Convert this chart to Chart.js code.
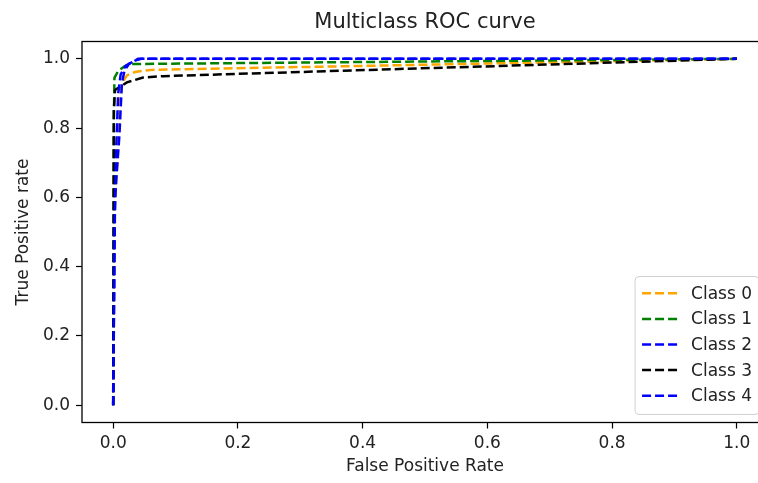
<!DOCTYPE html>
<html>
<head>
<meta charset="utf-8">
<script src="https://cdn.jsdelivr.net/npm/chart.js@4.4.0/dist/chart.umd.min.js"></script>
<style>
  html, body { margin: 0; padding: 0; background: #fff; overflow: hidden; }
  #roc { display: block; }
</style>
</head>
<body>
<canvas id="roc" width="775" height="483"></canvas>
<script>
// ROC points (false positive rate / true positive rate)
const class0Fpr = [0, 0.002, 0.008, 0.011, 0.014, 0.022, 0.035, 0.06, 1];
const class0Tpr = [0, 0.55, 0.75, 0.88, 0.93, 0.952, 0.962, 0.968, 1];
const class1Fpr = [0, 0.001, 0.002, 0.008, 0.018, 0.03, 1];
const class1Tpr = [0, 0.8, 0.945, 0.965, 0.978, 0.985, 1];
const class2Fpr = [0, 0.003, 0.01, 0.014, 0.018, 0.025, 0.04, 1];
const class2Tpr = [0, 0.6, 0.78, 0.93, 0.965, 0.985, 1, 1];
const class3Fpr = [0, 0.001, 0.003, 0.022, 0.048, 0.08, 1];
const class3Tpr = [0, 0.85, 0.91, 0.932, 0.946, 0.95, 1];
const class4Fpr = [0, 0.002, 0.005, 0.008, 0.012, 0.02, 0.035, 0.045, 1];
const class4Tpr = [0, 0.5, 0.75, 0.9, 0.955, 0.98, 0.995, 1, 1];

const classLabels = ['Class 0', 'Class 1', 'Class 2', 'Class 3', 'Class 4'];
const classColors = ['#ffa500', '#008000', '#0000ff', '#000000', '#0000ff'];
const tickValues = [0, 0.2, 0.4, 0.6, 0.8, 1.0];

const FONT = "'DejaVu Sans', sans-serif";
const TEXT = '#222';

const fprs = [class0Fpr, class1Fpr, class2Fpr, class3Fpr, class4Fpr];
const tprs = [class0Tpr, class1Tpr, class2Tpr, class3Tpr, class4Tpr];

const datasets = classLabels.map((label, i) => ({
  label,
  data: fprs[i].map((x, k) => ({ x, y: tprs[i][k] })),
  borderColor: classColors[i],
  borderWidth: 2.5,
  borderDash: [9, 4],
  pointRadius: 0,
  tension: 0,
  fill: false,
  order: classLabels.length - i   // last class drawn on top, like matplotlib
}));

// frame, title and legend drawn matplotlib style
const mplExtras = {
  id: 'mplExtras',
  afterDatasetsDraw(chart) {
    const { ctx, chartArea: a } = chart;
    ctx.save();
    ctx.strokeStyle = '#000';
    ctx.lineWidth = 1.3;
    ctx.strokeRect(a.left, a.top, a.right - a.left, a.bottom - a.top);
    ctx.restore();
  },
  afterDraw(chart) {
    const { ctx, chartArea: a } = chart;
    ctx.save();

    // title
    ctx.fillStyle = TEXT;
    ctx.font = '21px ' + FONT;
    ctx.textAlign = 'center';
    ctx.textBaseline = 'middle';
    ctx.fillText('Multiclass ROC curve', (a.left + a.right) / 2, 23);

    // legend, lower right inside the axes
    const fs = 17;
    ctx.font = fs + 'px ' + FONT;
    const rowH = 25.6;
    const handle = 35, gap = 14, padX = 7, padY = 5;
    const textW = Math.max(...chart.data.datasets.map(d => ctx.measureText(d.label).width));
    const w = padX * 2 + handle + gap + textW;
    const h = padY * 2 + rowH * chart.data.datasets.length;
    const x0 = a.right - 9 - w;
    const y0 = a.bottom - 8 - h;

    ctx.beginPath();
    ctx.roundRect(x0, y0, w, h, 4);
    ctx.fillStyle = 'rgba(255,255,255,0.8)';
    ctx.fill();
    ctx.strokeStyle = '#d0d0d0';
    ctx.lineWidth = 1;
    ctx.stroke();

    chart.data.datasets.forEach((d, i) => {
      const cy = y0 + padY + rowH * (i + 0.5) - 1;
      ctx.beginPath();
      ctx.setLineDash(d.borderDash);
      ctx.strokeStyle = d.borderColor;
      ctx.lineWidth = d.borderWidth;
      ctx.moveTo(x0 + padX, cy);
      ctx.lineTo(x0 + padX + handle, cy);
      ctx.stroke();
      ctx.setLineDash([]);
      ctx.fillStyle = TEXT;
      ctx.textAlign = 'left';
      ctx.textBaseline = 'middle';
      ctx.fillText(d.label, x0 + padX + handle + gap, cy + 1);
    });

    ctx.restore();
  }
};

const axisCommon = {
  type: 'linear',
  min: -0.05,
  max: 1.05,
  border: { display: false },
  grid: {
    drawOnChartArea: false,
    drawTicks: true,
    tickLength: 6,
    tickWidth: 1.2,
    color: '#000'
  },
  afterBuildTicks: (scale) => {
    scale.ticks = tickValues.map(v => ({ value: v }));
  }
};

new Chart(document.getElementById('roc'), {
  type: 'line',
  data: { datasets },
  options: {
    responsive: false,
    animation: false,
    layout: { padding: { top: 41.5, right: 7, left: 0, bottom: 0 } },
    plugins: {
      legend: { display: false },
      title: { display: false },
      tooltip: { enabled: false }
    },
    scales: {
      x: {
        ...axisCommon,
        position: 'bottom',
        ticks: {
          padding: 5,
          color: TEXT,
          font: { family: FONT, size: 17 },
          maxRotation: 0,
          callback: v => v.toFixed(1)
        },
        title: {
          display: true,
          text: 'False Positive Rate',
          color: TEXT,
          font: { family: FONT, size: 17 },
          padding: { top: 0, bottom: 6 }
        },
        afterFit: (scale) => { scale.height = 60.5; }
      },
      y: {
        ...axisCommon,
        position: 'left',
        ticks: {
          padding: 6,
          color: TEXT,
          font: { family: FONT, size: 17 },
          callback: v => v.toFixed(1)
        },
        title: {
          display: true,
          text: 'True Positive rate',
          color: TEXT,
          font: { family: FONT, size: 17 },
          padding: { top: 13, bottom: 0 }
        },
        afterFit: (scale) => { scale.width = 82; }
      }
    }
  },
  plugins: [mplExtras]
});
</script>
</body>
</html>
